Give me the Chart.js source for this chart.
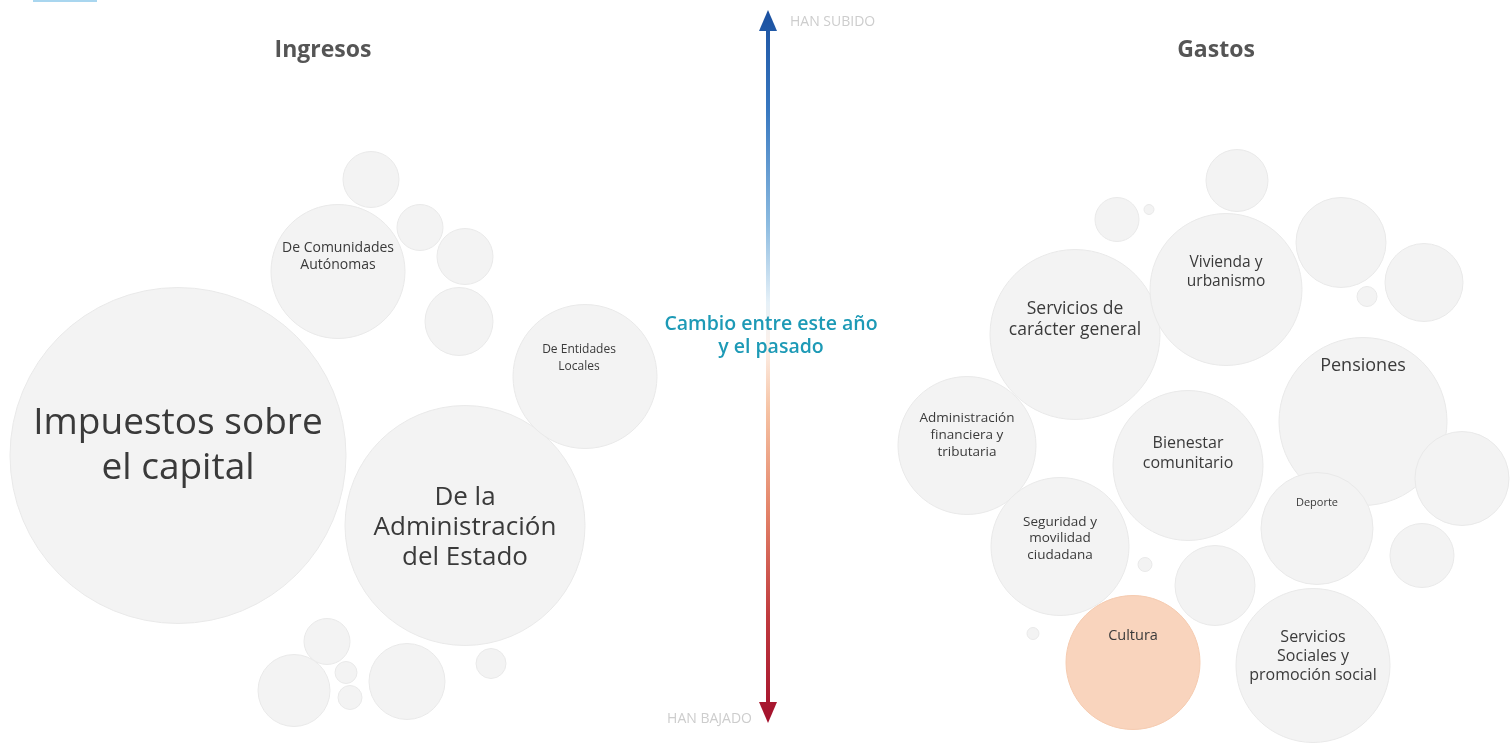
<!DOCTYPE html>
<html>
<head>
<meta charset="utf-8">
<script src="https://cdn.jsdelivr.net/npm/chart.js@4.4.1/dist/chart.umd.min.js"></script>
<style>
  html, body { margin: 0; padding: 0; background: #fff; }
  #wrap { position: relative; width: 1510px; height: 743px; }
</style>
</head>
<body>
<div id="wrap"><canvas id="chart"></canvas></div>
<script>
// Ingresos: x = group position, change = change vs last year, size = bubble radius
const ingresosLabels = [
  'Impuestos sobre\nel capital', 'De la\nAdministración\ndel Estado', 'De Comunidades\nAutónomas',
  'De Entidades\nLocales', '', '', '', '', '', '', '', '', '', ''
];
const ingresosX      = [17.8, 46.5, 33.8, 58.5, 37.1, 42.0, 46.5, 45.9, 32.7, 29.4, 34.6, 35.0, 40.7, 49.1];
const ingresosChange = [-8.4, -15.4, 10.0, -0.5, 19.2, 14.4, 11.5, 5.0, -27.0, -31.9, -30.1, -32.6, -31.0, -29.2];
const ingresosSize   = [168, 120, 67, 72, 28, 23, 28, 34, 23, 36, 11, 12, 38, 15];

// Gastos
const gastosLabels = [
  'Servicios de\ncarácter general', 'Vivienda y\nurbanismo', 'Pensiones',
  'Administración\nfinanciera y\ntributaria', 'Bienestar\ncomunitario', 'Seguridad y\nmovilidad\nciudadana',
  'Deporte', 'Cultura', 'Servicios\nSociales y\npromoción social',
  '', '', '', '', '', '', '', '', '', '', ''
];
const gastosX      = [107.5, 122.6, 136.3, 96.7, 118.8, 106.0, 131.7, 113.3, 131.3, 111.7, 114.9, 123.7, 134.1, 142.4, 136.7, 146.2, 142.2, 121.5, 114.5, 103.3];
const gastosChange = [3.7, 8.2, -5.0, -7.4, -9.4, -17.5, -15.7, -29.1, -29.4, 15.2, 16.2, 19.1, 12.9, 8.9, 7.5, -10.7, -18.4, -21.4, -19.3, -26.2];
const gastosSize   = [85, 76, 84, 69, 75, 69, 56, 67, 77, 22, 5, 31, 45, 39, 10, 47, 32, 40, 7, 6];

const highlighted = ['Cultura'];

// label look: font size, line height, shifts from bubble centre
const labelStyle = {
  'Impuestos sobre\nel capital': { size: 37, lh: 45, dy: -10 },
  'De la\nAdministración\ndel Estado': { size: 26, lh: 30, dy: 2 },
  'De Comunidades\nAutónomas': { size: 14, lh: 17, dy: -15 },
  'De Entidades\nLocales': { size: 12, lh: 17, dy: -18, dx: -6 },
  'Servicios de\ncarácter general': { size: 17.5, lh: 21, dy: -15 },
  'Vivienda y\nurbanismo': { size: 15.5, lh: 19, dy: -17 },
  'Pensiones': { size: 18, lh: 20, dy: -56 },
  'Administración\nfinanciera y\ntributaria': { size: 13.5, lh: 17, dy: -10 },
  'Bienestar\ncomunitario': { size: 16, lh: 20, dy: -12 },
  'Seguridad y\nmovilidad\nciudadana': { size: 13.5, lh: 16.5, dy: -8 },
  'Deporte': { size: 11, lh: 13, dy: -26 },
  'Cultura': { size: 14.5, lh: 16, dy: -27 },
  'Servicios\nSociales y\npromoción social': { size: 16, lh: 19, dy: -9 }
};

function toPoints(xs, ys, rs) {
  return xs.map((x, i) => ({ x: x, y: ys[i], r: rs[i] }));
}

const FONT = '"Open Sans", Lato, sans-serif';

const bubbleLabels = {
  id: 'bubbleLabels',
  afterDatasetsDraw(chart) {
    const ctx = chart.ctx;
    chart.data.datasets.forEach((ds, i) => {
      const meta = chart.getDatasetMeta(i);
      meta.data.forEach((el, j) => {
        const txt = ds.names[j];
        if (!txt) return;
        const st = labelStyle[txt] || { size: 11, lh: 13, dy: 0 };
        const lines = txt.split('\n');
        ctx.save();
        ctx.font = st.size + 'px ' + FONT;
        ctx.fillStyle = '#3a3a3a';
        ctx.textAlign = 'center';
        ctx.textBaseline = 'middle';
        const y0 = el.y + st.dy - (lines.length - 1) * st.lh / 2;
        lines.forEach((ln, k) => ctx.fillText(ln, el.x + (st.dx || 0), y0 + k * st.lh));
        ctx.restore();
      });
    });
  }
};

const decorations = {
  id: 'decorations',
  afterDraw(chart) {
    const ctx = chart.ctx;
    const ax = 768, top = 10, bottom = 723;
    ctx.save();
    // clipped header mark at the very top left
    ctx.fillStyle = '#a9d6ef';
    ctx.fillRect(33, 0, 64, 2);

    // titles
    ctx.fillStyle = '#555';
    ctx.font = 'bold 23px ' + FONT;
    ctx.textAlign = 'center';
    ctx.textBaseline = 'middle';
    ctx.fillText('Ingresos', 323, 50);
    ctx.fillText('Gastos', 1216, 50);

    // gradient arrow
    const g = ctx.createLinearGradient(0, top, 0, bottom);
    g.addColorStop(0, '#1a50a0');
    g.addColorStop(0.14, '#3878c0');
    g.addColorStop(0.3, '#8cbbe0');
    g.addColorStop(0.41, '#e6f1f8');
    g.addColorStop(0.47, '#fdf1ea');
    g.addColorStop(0.56, '#f6c3a4');
    g.addColorStop(0.7, '#e4856a');
    g.addColorStop(0.85, '#c03a3e');
    g.addColorStop(1, '#a3102c');
    ctx.strokeStyle = g;
    ctx.fillStyle = g;
    ctx.lineWidth = 4;
    ctx.beginPath();
    ctx.moveTo(ax, top + 18);
    ctx.lineTo(ax, bottom - 18);
    ctx.stroke();
    ctx.beginPath();
    ctx.moveTo(ax, top);
    ctx.lineTo(ax - 9, top + 21);
    ctx.lineTo(ax + 9, top + 21);
    ctx.closePath();
    ctx.fill();
    ctx.beginPath();
    ctx.moveTo(ax, bottom);
    ctx.lineTo(ax - 9, bottom - 21);
    ctx.lineTo(ax + 9, bottom - 21);
    ctx.closePath();
    ctx.fill();

    // arrow ends
    ctx.fillStyle = '#cdcdcd';
    ctx.font = '14px ' + FONT;
    ctx.textAlign = 'left';
    ctx.fillText('HAN SUBIDO', 790, 22);
    ctx.textAlign = 'right';
    ctx.fillText('HAN BAJADO', 752, 719);

    // axis caption
    ctx.fillStyle = '#1d9ab6';
    ctx.font = '600 19.5px ' + FONT;
    ctx.textAlign = 'center';
    ctx.fillText('Cambio entre este año', 771, 324);
    ctx.fillText('y el pasado', 771, 347);
    ctx.restore();
  }
};

function bubbleColor(names) {
  return c => highlighted.includes(names[c.dataIndex]) ? '#f9d4bd' : '#f3f3f3';
}
function bubbleBorder(names) {
  return c => highlighted.includes(names[c.dataIndex]) ? '#f5cbb0' : '#e9e9e9';
}

new Chart(document.getElementById('chart'), {
  type: 'bubble',
  data: {
    datasets: [
      {
        label: 'Ingresos',
        names: ingresosLabels,
        data: toPoints(ingresosX, ingresosChange, ingresosSize),
        backgroundColor: bubbleColor(ingresosLabels),
        borderColor: bubbleBorder(ingresosLabels),
        borderWidth: 1,
        clip: false
      },
      {
        label: 'Gastos',
        names: gastosLabels,
        data: toPoints(gastosX, gastosChange, gastosSize),
        backgroundColor: bubbleColor(gastosLabels),
        borderColor: bubbleBorder(gastosLabels),
        borderWidth: 1,
        clip: false
      }
    ]
  },
  options: {
    responsive: true,
    maintainAspectRatio: false,
    animation: false,
    layout: { padding: 0, autoPadding: false },
    plugins: { legend: { display: false }, tooltip: { enabled: false } },
    events: [],
    scales: {
      x: { type: 'linear', min: 0, max: 151, display: false },
      y: { type: 'linear', min: -37.15, max: 37.15, display: false }
    }
  },
  plugins: [bubbleLabels, decorations]
});
</script>
</body>
</html>
